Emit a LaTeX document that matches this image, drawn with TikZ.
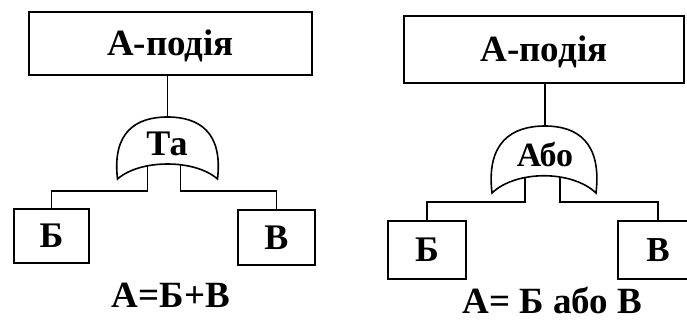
\documentclass[tikz,border=0pt]{standalone}
\usepackage{fontspec}
\setmainfont{Liberation Serif}
\begin{document}
\begin{tikzpicture}[x=1pt,y=-1pt]
  \tikzstyle{event}=[draw,line width=2.3pt,inner sep=0pt,text height=24pt,text depth=0pt,font=\fontsize{37}{40}\selectfont\bfseries]
  \tikzstyle{leaf}=[draw,line width=2.3pt,inner sep=0pt,text height=23.5pt,text depth=0pt,font=\fontsize{36}{40}\selectfont\bfseries]
  \tikzstyle{gate}=[draw,line width=1.6pt,fill=white]
  \tikzstyle{gatename}=[inner sep=0pt,text height=23pt,text depth=0pt,font=\fontsize{36}{38}\selectfont\bfseries]
  \tikzstyle{formula}=[inner sep=0pt,text height=24pt,text depth=0pt,font=\fontsize{37}{40}\selectfont\bfseries]
  \tikzstyle{wire}=[draw,line width=1.7pt]
  \useasboundingbox (0,0) rectangle (687,322);
  % left tree: Ta
  \node[event,minimum width=283,minimum height=63] (topL) at (170.5,43.5) {А-подія};
  \node[leaf,minimum width=75,minimum height=54] (bL) at (51.5,236) {Б};
  \node[leaf,minimum width=77,minimum height=55] (vL) at (276.5,237.5) {В};
  \coordinate (gateLtop) at (167.5,117);
  \coordinate (inL1) at (147.5,160);
  \coordinate (inL2) at (180.5,160);
  \draw[wire] (inL1) -- ++(0,31) -| (bL.north);
  \draw[wire] (inL2) -- ++(0,31) -| (vL.north);
  \draw[gate] (117.5,179) .. controls (112,132) and (136,117) .. (gateLtop)
    .. controls (199,117) and (223,132) .. (217.5,179)
    .. controls (195,159) and (140,159) .. cycle;
  \draw[wire] (gateLtop) -- (gateLtop |- topL.south);
  \node[gatename] (andL) at (167,144) {Та};
  \node[formula] (eqL) at (171,295) {А=Б+В};
  % right tree: Abo
  \node[event,minimum width=280,minimum height=67] (topR) at (544,49.5) {А-подія};
  \node[leaf,minimum width=78,minimum height=58] (bR) at (427,250) {Б};
  \node[leaf,minimum width=80,minimum height=58,font=\fontsize{35}{38}\selectfont\bfseries] (vR) at (658,250) {В};
  \coordinate (gateRtop) at (545,126);
  \coordinate (inR1) at (525,170);
  \coordinate (inR2) at (560,170);
  \draw[wire] (inR1) -- ++(0,32) -| (bR.north);
  \draw[wire] (inR2) -- ++(0,32) -| (vR.north);
  \draw[gate] (492,193) .. controls (486,142) and (512,126) .. (gateRtop)
    .. controls (577,126) and (602,142) .. (596,193)
    .. controls (572,170) and (516,170) .. cycle;
  \draw[wire] (gateRtop) -- (gateRtop |- topR.south);
  \node[gatename,font=\fontsize{34}{36}\selectfont\bfseries] (orR) at (545,155) {Або};
  \node[formula] (eqR) at (552.5,301.5) {А= Б або В};
\end{tikzpicture}
\end{document}
